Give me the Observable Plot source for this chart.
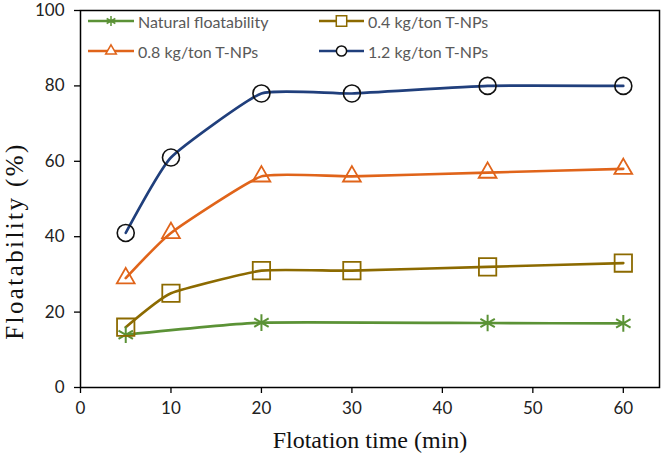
<!DOCTYPE html>
<html>
<head>
<meta charset="utf-8">
<script src="https://cdn.jsdelivr.net/npm/d3@7"></script>
<script src="https://cdn.jsdelivr.net/npm/@observablehq/plot@0.6"></script>
<style>
  html, body { margin: 0; padding: 0; background: #fff; }
  #wrap { position: relative; width: 670px; height: 460px; }
  #legend { position: absolute; left: 0; top: 0; font-family: Lato, "Open Sans", sans-serif; font-size: 16px; color: #595959; }
  .item { position: absolute; display: flex; align-items: center; white-space: nowrap; }
  .item svg { margin-right: 4px; }
</style>
</head>
<body>
<div id="wrap"><div id="legend"></div></div>
<script>
const times = [5, 10, 20, 30, 45, 60];
const naturalTimes = [5, 20, 45, 60];
const natural = [14, 17.2, 17.1, 17];
const dose04 = [16, 25, 31, 31, 32, 33];
const dose08 = [29, 41, 56, 56, 57, 58];
const dose12 = [41, 61, 78, 78, 80, 80];
const xTicks = [0, 10, 20, 30, 40, 50, 60];
const yTicks = [0, 20, 40, 60, 80, 100];
const xTitle = "Flotation time (min)";
const yTitle = "Floatability (%)";

const series = [
  {name: "Natural floatability", t: naturalTimes, v: natural, color: "#5B9236", symbol: "asterisk", markStroke: "#5B9236", r: 7.9, sw: 2},
  {name: "0.4 kg/ton T-NPs", t: times, v: dose04, color: "#8C6A00", symbol: "square", markStroke: "#8C6A00", r: 9.8, sw: 1.8},
  {name: "0.8 kg/ton T-NPs", t: times, v: dose08, color: "#E0641A", symbol: "triangle", markStroke: "#E0641A", r: 6.6, sw: 1.8},
  {name: "1.2 kg/ton T-NPs", t: times, v: dose12, color: "#203F7C", symbol: "circle", markStroke: "#111111", r: 8.5, sw: 1.6}
];

const marks = [];
for (const s of series) {
  const rows = s.t.map((t, i) => ({t, v: s.v[i]}));
  marks.push(Plot.line(rows, {x: "t", y: "v", stroke: s.color, strokeWidth: 2.6, curve: "cardinal", tension: 0.55}));
}
for (const s of series) {
  const rows = s.t.map((t, i) => ({t, v: s.v[i]}));
  marks.push(Plot.dot(rows, {x: "t", y: "v", symbol: s.symbol, r: s.r, stroke: s.markStroke, strokeWidth: s.sw, fill: "none"}));
}

const chart = Plot.plot({
  width: 670,
  height: 460,
  marginLeft: 80,
  marginRight: 11,
  marginTop: 10,
  marginBottom: 73,
  style: {background: "transparent", overflow: "visible"},
  x: {domain: [0, 64]},
  y: {domain: [0, 100]},
  marks: [
    Plot.axisY(yTicks, {tickSize: 6, tickPadding: 10, stroke: "#000", strokeWidth: 1.3, fill: "#222", fontSize: 17, fontFamily: "Lato, sans-serif", label: null}),
    Plot.axisX(xTicks, {tickSize: 6, tickPadding: 8, stroke: "#000", strokeWidth: 1.3, fill: "#222", fontSize: 17, fontFamily: "Lato, sans-serif", label: null}),
    ...marks,
    Plot.frame({stroke: "#000", strokeWidth: 1.5}),
    Plot.text([xTitle], {frameAnchor: "bottom", dy: 53, fontSize: 24, fontFamily: "'Liberation Serif', serif", fill: "#111", lineAnchor: "middle", textAnchor: "middle"}),
    Plot.text([yTitle], {frameAnchor: "left", dx: -66, dy: 42, rotate: -90, fontSize: 25, fontFamily: "'Liberation Serif', serif", fill: "#111", lineAnchor: "middle", textAnchor: "middle"})
  ]
});
d3.select(chart).selectAll("text").filter(function() { return this.textContent === yTitle; })
  .style("letter-spacing", "2.4px");
document.getElementById("wrap").prepend(chart);

// Legend overlay (inside plot area, top-left)
const legend = document.getElementById("legend");
const pos = [
  {left: 88, top: 21}, {left: 319, top: 21},
  {left: 88, top: 51}, {left: 319, top: 51}
];
series.forEach((s, i) => {
  const p = pos[i];
  const w = i % 2 === 0 ? 46 : 45;
  const div = document.createElement("div");
  div.className = "item";
  div.style.left = p.left + "px";
  div.style.top = (p.top - 11) + "px";
  div.style.height = "22px";
  const svg = d3.create("svg").attr("width", w).attr("height", 22);
  svg.append("line").attr("x1", 0).attr("x2", w).attr("y1", 11).attr("y2", 11)
    .attr("stroke", s.color).attr("stroke-width", 2.6);
  const symMap = {asterisk: d3.symbolAsterisk, square: d3.symbolSquare, triangle: d3.symbolTriangle, circle: d3.symbolCircle};
  const size = Math.PI * Math.pow(s.r * 0.6, 2);
  svg.append("path").attr("d", d3.symbol(symMap[s.symbol], size)())
    .attr("transform", `translate(${w / 2},11)`)
    .attr("fill", s.symbol === "asterisk" ? "none" : "#fff")
    .attr("stroke", s.markStroke).attr("stroke-width", 1.5);
  div.appendChild(svg.node());
  const span = document.createElement("span");
  span.textContent = s.name;
  div.appendChild(span);
  legend.appendChild(div);
});
</script>
</body>
</html>
